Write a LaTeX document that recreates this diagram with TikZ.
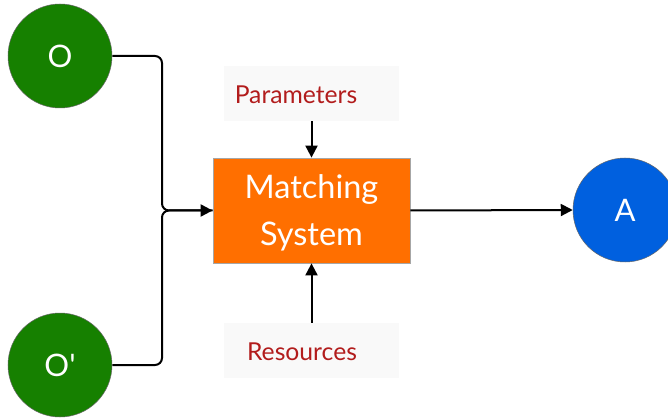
\documentclass[tikz,border=0pt]{standalone}
\usepackage{fontspec}
\setmainfont{Lato}
\usetikzlibrary{arrows.meta}
\definecolor{ogreen}{RGB}{22,128,0}
\definecolor{oblue}{RGB}{0,96,223}
\definecolor{oorange}{RGB}{255,111,0}
\definecolor{ored}{RGB}{178,28,28}
\definecolor{lightbg}{RGB}{249,249,249}
\tikzset{
  circ/.style={circle, fill=#1, draw=black!60, line width=0.5pt, minimum size=104pt, inner sep=0pt, text=white, font=\fontsize{31}{33}\selectfont},
  sysbox/.style={fill=oorange, draw=black!35, line width=0.8pt, minimum width=197pt, minimum height=105pt, inner sep=0pt, text=white, align=center, font=\fontsize{32.5}{47}\selectfont},
  lblbox/.style={fill=lightbg, draw=none, minimum width=175pt, minimum height=55pt, inner sep=0pt},
  lbltext/.style={text=ored, inner sep=0pt, font=\fontsize{24.7}{27}\selectfont},
  conn/.style={line width=2pt, -{Triangle[length=12pt,width=12pt]}},
  plain/.style={line width=2pt}
}
\begin{document}
\begin{tikzpicture}[x=1pt,y=-1pt]
\useasboundingbox (0,0) rectangle (668,419);
\node[circ=ogreen] (O) at (60,56) {O};
\node[circ=ogreen] (Op) at (60,365) {O\textquotesingle};
\node[circ=oblue] (A) at (625,210) {A};
\node[sysbox] (M) at (311.5,210.5) {};
\node[text=white, align=center, font=\fontsize{32.5}{47}\selectfont, inner sep=0pt] (Mt) at (311.5,213) {Matching\\System};
\node[lblbox] (P) at (311.5,93.5) {};
\node[lbltext] at (296,95) {Parameters};
\node[lblbox] (R) at (311.5,350.5) {};
\node[lbltext] at (302,352) {Resources};
\coordinate (j) at (162,210.5);
\draw[plain, rounded corners=7pt] (O.east) -| (j) -- (M.west);
\draw[conn, rounded corners=7pt] (Op.east) -| (j) -- (M.west);
\draw[conn] (P.south) -- (M.north);
\draw[conn] (R.north) -- (M.south);
\draw[conn] (M.east) -- (A.west);
\end{tikzpicture}
\end{document}
